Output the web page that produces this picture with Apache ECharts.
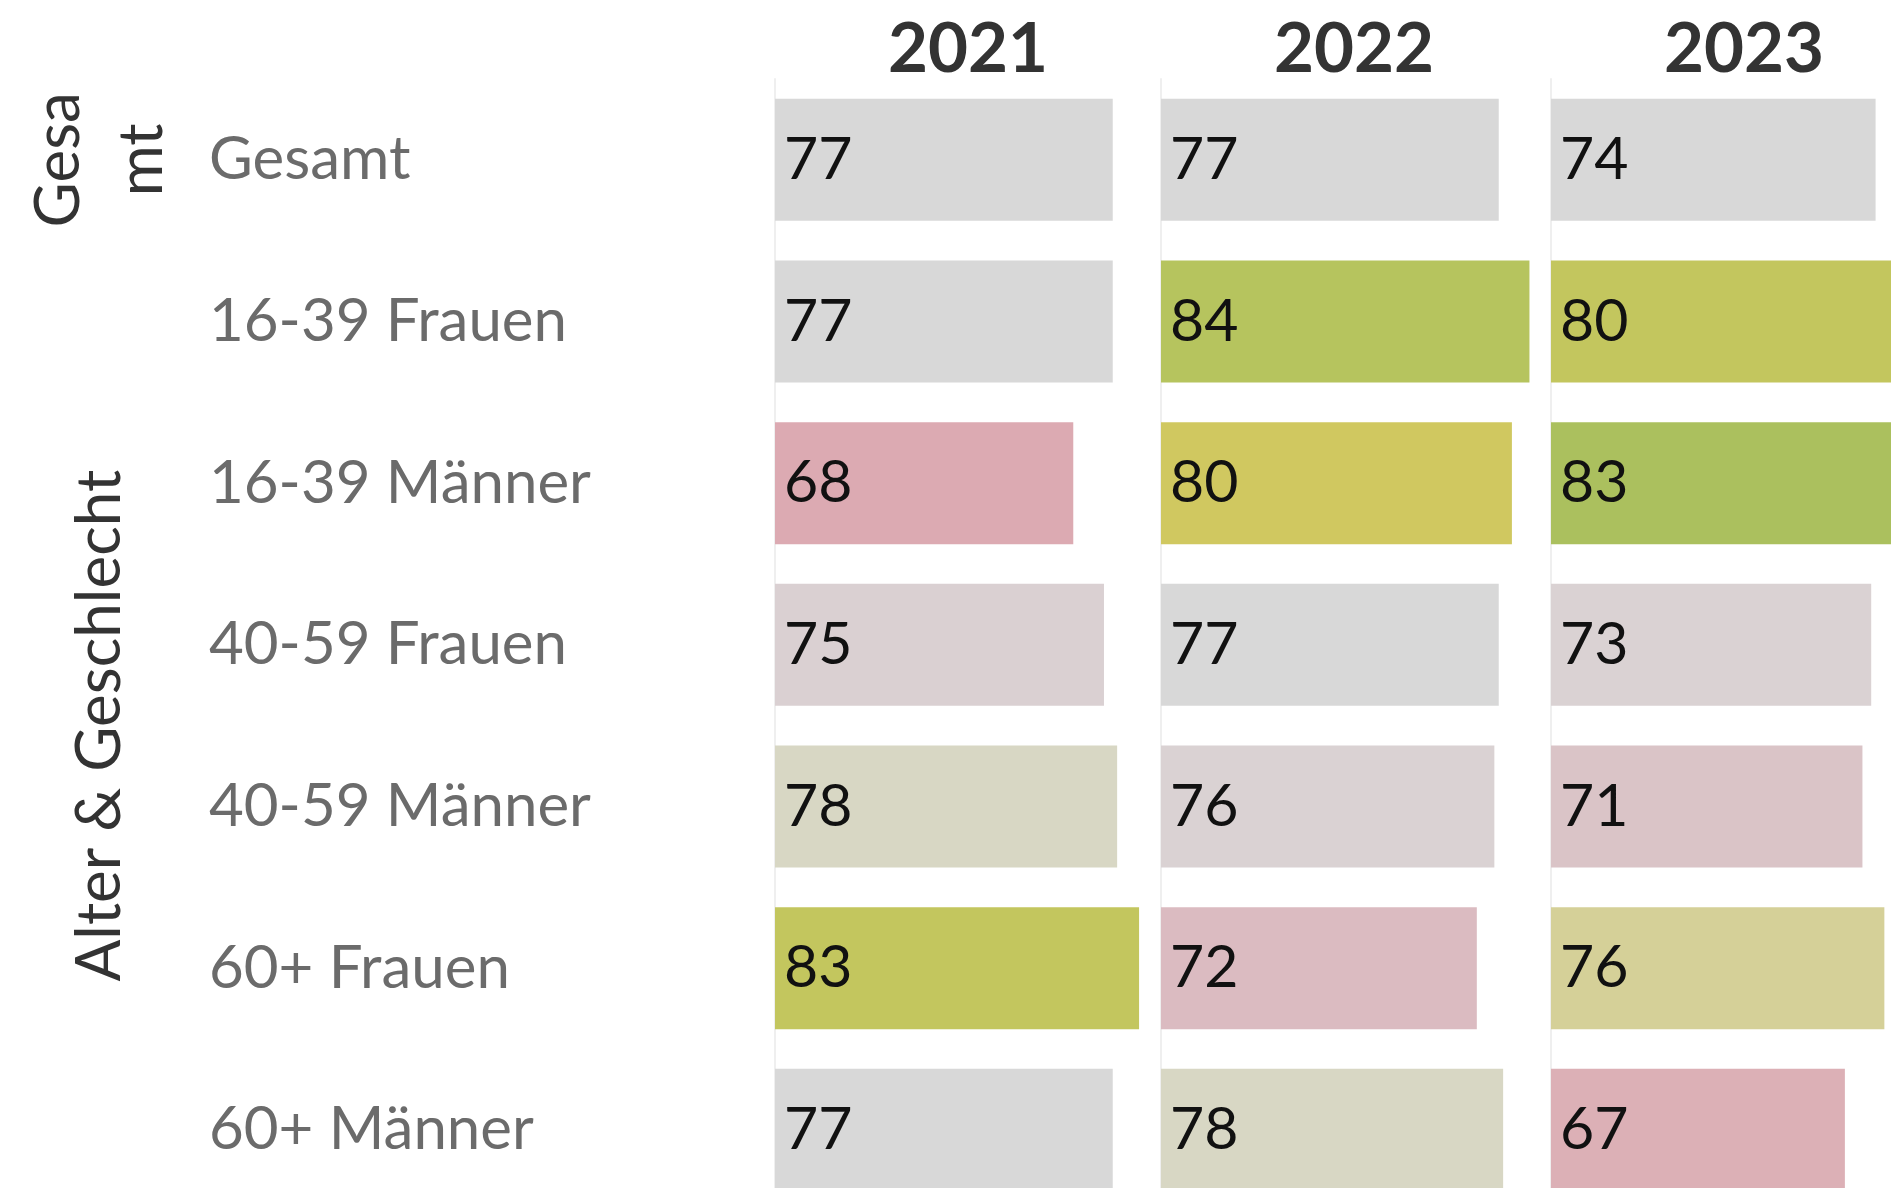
<!DOCTYPE html>
<html>
<head>
<meta charset="utf-8">
<script src="https://cdn.jsdelivr.net/npm/echarts@6/dist/echarts.min.js"></script>
<style>
  html, body { margin: 0; padding: 0; background: #ffffff; overflow: hidden; width: 1891px; height: 1188px; }
  #chart { width: 1960px; height: 1240px; }
</style>
</head>
<body>
<div id="chart"></div>
<script>
// ---- data ----
const years = ['2021', '2022', '2023'];
const categories = ['Gesamt', '16-39 Frauen', '16-39 Männer', '40-59 Frauen', '40-59 Männer', '60+ Frauen', '60+ Männer'];
const values2021 = [77, 77, 68, 75, 78, 83, 77];
const values2022 = [77, 84, 80, 77, 76, 72, 78];
const values2023 = [74, 80, 83, 73, 71, 76, 67];
const groupLabels = ['Gesamt', 'Alter & Geschlecht'];
const groupFirstCategory = ['Gesamt', '16-39 Frauen'];
const groupLastCategory = ['Gesamt', '60+ Männer'];

// ---- build ----
const allValues = [values2021, values2022, values2023];
const FONT = 'Lato, "Noto Sans", sans-serif';

// difference from the year's "Gesamt" value drives the colour
function rows(vals) {
  return vals.map((v, i) => [v, categories[i], v - vals[0]]);
}

const gridLefts = [775, 1161, 1551];
const panelWidth = 386;
const gridTop = 79;
const rowHeight = 161.67;

const grids = gridLefts.map(l => ({ left: l, top: gridTop, width: panelWidth, height: rowHeight * categories.length }));

const xAxes = years.map((y, i) => ({
  type: 'value', gridIndex: i, min: 0, max: 88, position: 'top',
  name: y, nameLocation: 'middle', nameGap: 29,
  nameTextStyle: { fontFamily: FONT, fontSize: 69, fontWeight: 'bold', color: '#333333', verticalAlign: 'middle' },
  axisLine: { show: false }, axisTick: { show: false }, axisLabel: { show: false }, splitLine: { show: false }
}));

const yAxes = years.map((y, i) => ({
  type: 'category', gridIndex: i, data: categories, inverse: true,
  axisLine: { show: true, lineStyle: { color: '#efefef', width: 2 } },
  axisTick: { show: false },
  splitLine: { show: false },
  axisLabel: i === 0 ? {
    show: true, align: 'left', margin: 566, fontFamily: FONT, fontSize: 60, color: '#6b6b6b',
    padding: [7, 0, 0, 0]
  } : { show: false }
}));

const series = years.map((y, i) => ({
  type: 'bar', name: y, xAxisIndex: i, yAxisIndex: i,
  data: rows(allValues[i]),
  encode: { x: 0, y: 1 },
  barWidth: 122,
  silent: true,
  label: {
    show: true, position: 'insideLeft', distance: 9,
    formatter: p => p.value[0],
    fontFamily: FONT, fontSize: 59, color: '#111111'
  }
}));

const chart = echarts.init(document.getElementById('chart'), null, { renderer: 'canvas' });
chart.setOption({
  animation: false,
  backgroundColor: '#ffffff',
  grid: grids,
  xAxis: xAxes,
  yAxis: yAxes,
  visualMap: {
    type: 'continuous', show: false, dimension: 2, seriesIndex: [0, 1, 2],
    min: -9, max: 9,
    inRange: {
      color: ['#dcaab2', '#dcadb4', '#dcb0b6', '#dbb5bb', '#dbbbc1', '#dbc0c4', '#dac4c7', '#dad0d2', '#dad2d3',
              '#d8d8d8',
              '#d8d7c4', '#d5d098', '#d0c860', '#cbc75f', '#c7c65e', '#c3c65e', '#b6c45e', '#b0c25e', '#abc05e']
    }
  },
  series: series
});

// group headers (rotated), centred on their row spans
const groupX = 100;
const graphics = groupLabels.map((g, k) => {
  const yA = chart.convertToPixel({ gridIndex: 0 }, [0, groupFirstCategory[k]])[1];
  const yB = chart.convertToPixel({ gridIndex: 0 }, [0, groupLastCategory[k]])[1];
  const span = Math.abs(yB - yA) + rowHeight;
  return {
    type: 'text', x: groupX, y: (yA + yB) / 2, rotation: Math.PI / 2, silent: true,
    style: {
      text: g, font: '62px ' + FONT, fill: '#333333',
      align: 'center', verticalAlign: 'middle',
      width: span, overflow: 'breakAll', lineHeight: 83
    }
  };
});
chart.setOption({ graphic: graphics });
</script>
</body>
</html>
